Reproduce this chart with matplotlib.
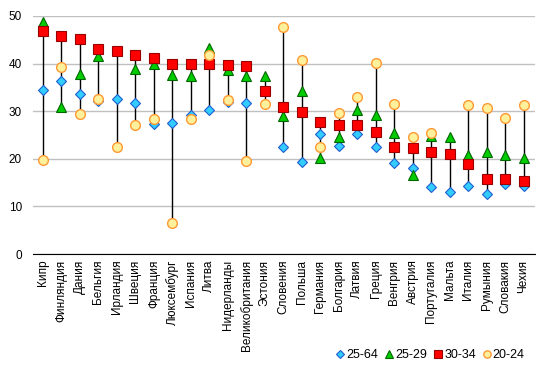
import numpy as np
import matplotlib
matplotlib.use("Agg")
import matplotlib.pyplot as plt

plt.rcParams['font.family'] = ['Liberation Sans', 'DejaVu Sans']

countries = ['Кипр', 'Финляндия', 'Дания', 'Бельгия', 'Ирландия', 'Швеция', 'Франция',
             'Люксембург', 'Испания', 'Литва', 'Нидерланды', 'Великобритания', 'Эстония',
             'Словения', 'Польша', 'Германия', 'Болгария', 'Латвия', 'Греция', 'Венгрия',
             'Австрия', 'Португалия', 'Мальта', 'Италия', 'Румыния', 'Словакия', 'Чехия']

nan = np.nan
a25_64 = [34.4, 36.4, 33.6, 32.2, 32.6, 31.7, 27.3, 27.6, 29.1, 30.3, 31.9, 31.7, nan,
          22.5, 19.4, 25.2, 22.7, 25.1, 22.5, 19.1, 18.0, 14.1, 13.0, 14.3, 12.7, 14.7, 14.3]
a25_29 = [48.7, 30.9, 37.8, 41.5, nan, 38.9, 40.0, 37.6, 37.4, 43.2, 38.7, 37.3, 37.3,
          29.0, 34.3, 20.1, 24.5, 30.3, 29.2, 25.5, 16.5, 24.7, 24.6, 20.7, 21.4, 20.7, 20.2]
a30_34 = [46.9, 45.8, 45.2, 43.0, 42.6, 41.7, 41.1, 39.8, 39.8, 39.8, 39.6, 39.4, 34.2,
          30.8, 29.8, 27.7, 27.0, 27.0, 25.6, 22.4, 22.2, 21.5, 20.9, 19.0, 15.8, 15.7, 15.3]
a20_24 = [19.7, 39.2, 29.3, 32.5, 22.5, 27.0, 28.4, 6.5, 28.3, 41.7, 32.3, 19.6, 31.4,
          47.6, 40.7, 22.4, 29.6, 32.9, 40.1, 31.4, 24.5, 25.4, nan, 31.2, 30.6, 28.5, 31.2]

x = np.arange(len(countries))
allv = np.array([a25_64, a25_29, a30_34, a20_24])
lo = np.nanmin(allv, axis=0)
hi = np.nanmax(allv, axis=0)

fig = plt.figure(figsize=(5.36, 3.78), dpi=100)
ax = fig.add_axes([0.0616, 0.328, 0.936, 0.63])

ax.vlines(x, lo, hi, color='black', lw=1, zorder=2)
ax.plot(x, a25_64, 'D', ms=5, mfc='#33CCFF', mec='#1F5FD0', mew=0.8, ls='none', label='25-64', zorder=3)
ax.plot(x, a25_29, '^', ms=7, mfc='#00CC00', mec='#006600', mew=0.8, ls='none', label='25-29', zorder=4)
ax.plot(x, a30_34, 's', ms=7, mfc='#FF0000', mec='#990000', mew=0.8, ls='none', label='30-34', zorder=5)
ax.plot(x, a20_24, 'o', ms=7, mfc='#FFF09C', mec='#FF9933', mew=1.0, ls='none', label='20-24', zorder=6)

ax.set_ylim(0, 50)
ax.set_xlim(-0.54, 26.6)
ax.set_yticks(range(0, 51, 10))
ax.yaxis.grid(True, color='#C0C0C0', lw=1)
ax.set_axisbelow(True)
ax.set_xticks(x)
ax.set_xticklabels(countries, rotation=90, fontsize=8.5)
ax.tick_params(axis='y', labelsize=8.5, length=0, pad=8)
ax.tick_params(axis='x', length=0, pad=4)
for s in ['left', 'right', 'top']:
    ax.spines[s].set_visible(False)
ax.spines['bottom'].set_color('black')

fig.legend(loc='lower right', bbox_to_anchor=(1.0, 0.015), ncol=4, frameon=False,
           fontsize=9, handletextpad=0.05, columnspacing=0.4, handlelength=0.9,
           markerscale=0.75)

fig.savefig('out.png', dpi=100)
